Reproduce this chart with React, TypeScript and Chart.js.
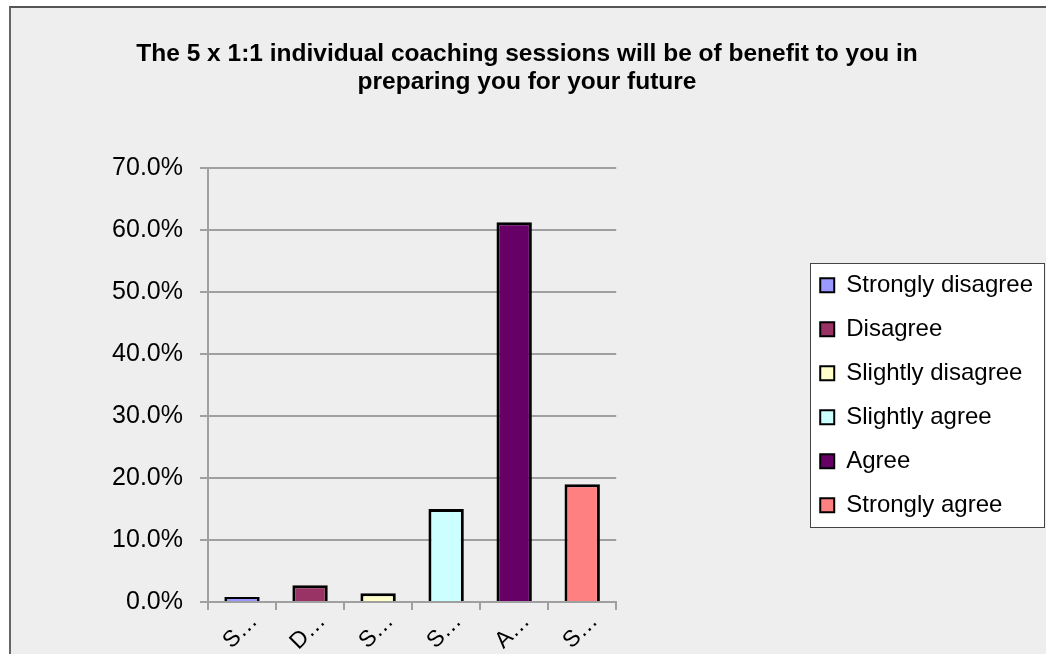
import React, { useEffect, useRef } from "react";
import { Chart, registerables } from "chart.js";

Chart.register(...registerables);

const categories = [
  "Strongly disagree",
  "Disagree",
  "Slightly disagree",
  "Slightly agree",
  "Agree",
  "Strongly agree",
];
const values = [0.8, 2.7, 1.4, 15.0, 61.3, 19.0];
const barColors = ["#9999FF", "#993366", "#FFFFCC", "#CCFFFF", "#660066", "#FF8080"];
const titleLines = [
  "The 5 x 1:1 individual coaching sessions will be of benefit to you in",
  "preparing you for your future",
];
const yMax = 70;
const yStep = 10;

const FONT = "'Liberation Sans', Arial, sans-serif";
const GRID = "#a0a0a0";

const legendBoxPlugin = {
  id: "legendBox",
  beforeDraw(chart: any) {
    const lg = chart.legend;
    if (!lg || !lg.legendHitBoxes || !lg.legendHitBoxes.length) return;
    const hb = lg.legendHitBoxes;
    let minL = Infinity, maxR = -Infinity, minT = Infinity, maxB = -Infinity;
    hb.forEach((h: any) => {
      minL = Math.min(minL, h.left);
      maxR = Math.max(maxR, h.left + h.width);
      minT = Math.min(minT, h.top);
      maxB = Math.max(maxB, h.top + h.height);
    });
    const ctx = chart.ctx;
    ctx.save();
    const x = Math.round(minL - 10) + 0.5;
    const y = Math.round(minT - 10) + 0.5;
    const w = Math.round(maxR + 11 - x);
    const h = Math.round(maxB + 10 - y);
    ctx.fillStyle = "#ffffff";
    ctx.fillRect(x, y, w, h);
    ctx.strokeStyle = "#444444";
    ctx.lineWidth = 1;
    ctx.strokeRect(x, y, w, h);
    ctx.restore();
  },
};

export default function App() {
  const ref = useRef<HTMLCanvasElement | null>(null);

  useEffect(() => {
    if (!ref.current) return;
    const chart = new Chart(ref.current, {
      type: "bar",
      data: {
        labels: categories,
        datasets: [
          {
            label: "Responses",
            data: values,
            backgroundColor: barColors,
            borderColor: "#000000",
            borderWidth: 3,
            borderSkipped: "start",
            barPercentage: 0.52,
            categoryPercentage: 1,
          },
        ],
      },
      options: {
        animation: false,
        responsive: false,
        maintainAspectRatio: false,
        layout: { padding: { left: 0, right: 3, top: 0, bottom: 0 } },
        plugins: {
          tooltip: { enabled: false },
          title: {
            display: true,
            text: titleLines,
            color: "#000000",
            font: { family: FONT, size: 24.5, weight: "bold", lineHeight: 1.15 },
            padding: { top: 32, bottom: 72 },
          },
          legend: {
            display: true,
            position: "right",
            fullSize: false,
            align: "center",
            maxWidth: 320,
            title: { display: true, text: "", padding: 0, font: { size: 10, lineHeight: 2 } },
            labels: {
              color: "#000000",
              font: { family: FONT, size: 24 },
              boxWidth: 14,
              boxHeight: 14,
              padding: 20,
              generateLabels: () =>
                categories.map((c, i) => ({
                  text: c,
                  fillStyle: barColors[i],
                  strokeStyle: "#000000",
                  fontColor: "#000000",
                  lineWidth: 2,
                  hidden: false,
                  index: i,
                  datasetIndex: 0,
                })),
            },
          },
        },
        scales: {
          x: {
            type: "category",
            offset: true,
            grid: {
              display: true,
              offset: true,
              drawOnChartArea: false,
              drawTicks: true,
              tickLength: 8,
              color: GRID,
              lineWidth: 2,
            },
            border: { display: true, color: GRID, width: 2 },
            ticks: {
              color: "#000000",
              font: { family: FONT, size: 23 },
              minRotation: 45,
              maxRotation: 45,
              autoSkip: false,
              padding: -2,
              labelOffset: 12,
              callback: function (this: any, value: any) {
                const s = categories[value as number] || "";
                return s.charAt(0) + "\u2026";
              },
            },
            afterFit: (s: any) => {
              s.height = 52;
            },
          },
          y: {
            min: 0,
            max: yMax,
            grid: {
              color: GRID,
              lineWidth: 2,
              tickLength: 8,
              drawTicks: true,
            },
            border: { display: true, color: GRID, width: 2 },
            ticks: {
              stepSize: yStep,
              color: "#000000",
              font: { family: FONT, size: 25 },
              padding: 17,
              callback: (v: any) => Number(v).toFixed(1) + "%",
            },
            afterFit: (s: any) => {
              s.width = 197;
            },
          },
          pad: {
            position: "right",
            display: true,
            grid: { display: false, drawTicks: false },
            border: { display: false },
            ticks: { display: false },
            afterFit: (s: any) => {
              s.width = 184;
            },
          },
        },
      } as any,
      plugins: [legendBoxPlugin],
    });
    return () => chart.destroy();
  }, []);

  return (
    <div
      style={{
        position: "absolute",
        left: 9,
        top: 6,
        width: 1037,
        height: 648,
        boxSizing: "border-box",
        borderTop: "2px solid #555555",
        borderLeft: "2px solid #666666",
        background: "#eeeeee",
        overflow: "hidden",
      }}
    >
      <canvas ref={ref} width={1035} height={646} style={{ display: "block" }} />
    </div>
  );
}
